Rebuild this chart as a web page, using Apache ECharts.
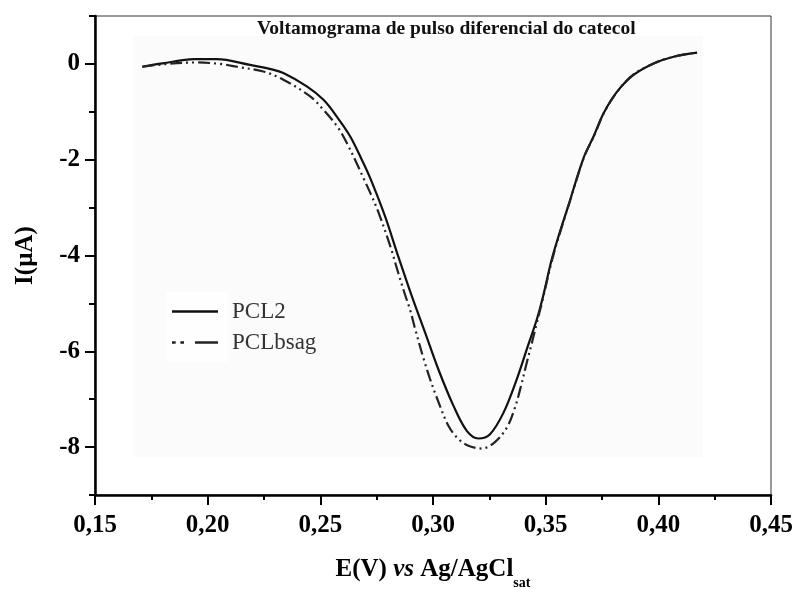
<!DOCTYPE html>
<html><head><meta charset="utf-8">
<script src="https://cdn.jsdelivr.net/npm/echarts@6/dist/echarts.min.js"></script>
<style>html,body{margin:0;padding:0;background:#fff}#c{width:794px;height:589px}</style>
</head><body><div id="c"></div>
<script>
const titleText = 'Voltamograma de pulso diferencial do catecol';
const seriesNames = ['PCL2', 'PCLbsag'];
const xTicks = [0.15, 0.20, 0.25, 0.30, 0.35, 0.40, 0.45];
const yTicks = [-8, -6, -4, -2, 0];

const pcl2X = [0.171,0.180,0.194,0.204,0.2188,0.228,0.2336,0.244,0.2514,0.2573,0.2632,0.2684,0.2721,0.2787,0.2843,0.2906,0.2965,0.3024,0.3091,0.315,0.3202,0.3253,0.3313,0.3372,0.3416,0.3461,0.3485,0.3527,0.3557,0.360,0.3668,0.3713,0.3757,0.3817,0.389,0.3979,0.4068,0.4172];
const pcl2Y = [-0.06,0.01,0.10,0.10,-0.02,-0.11,-0.19,-0.47,-0.75,-1.10,-1.51,-2.00,-2.38,-3.18,-3.98,-4.85,-5.61,-6.38,-7.14,-7.66,-7.82,-7.73,-7.28,-6.58,-5.96,-5.33,-4.92,-4.08,-3.60,-2.97,-1.965,-1.51,-1.03,-0.58,-0.23,0.01,0.15,0.235];

const bsagX = [0.171,0.180,0.195,0.2055,0.213,0.2247,0.2336,0.2455,0.2514,0.258,0.2625,0.2654,0.2691,0.2728,0.2758,0.281,0.2845,0.2876,0.2898,0.292,0.2958,0.2987,0.3017,0.3069,0.3113,0.3157,0.3217,0.3276,0.3328,0.3364,0.3387,0.3416,0.3439,0.3461,0.3483,0.3527,0.356,0.3602,0.3670,0.3715,0.3759,0.3819,0.389,0.398,0.4067,0.417];
const bsagY = [-0.06,-0.01,0.03,0.00,-0.06,-0.16,-0.33,-0.68,-0.96,-1.34,-1.72,-2.00,-2.38,-2.76,-3.10,-3.80,-4.35,-4.82,-5.13,-5.52,-6.15,-6.58,-6.97,-7.56,-7.83,-7.97,-8.03,-7.89,-7.59,-7.17,-6.79,-6.24,-5.82,-5.40,-4.99,-4.12,-3.58,-2.95,-1.95,-1.50,-1.02,-0.57,-0.22,0.01,0.15,0.235];

const zip = (xs, ys) => xs.map((v, i) => [v, ys[i]]);
const serif = "'Liberation Serif','Times New Roman',serif";
const labelStyle = {fontFamily: serif, fontWeight: 'bold', fontSize: 25, color: '#000'};
const legendText = {fontFamily: serif, fontSize: 23, color: '#333', padding: [0, 0, 0, 9]};

const chart = echarts.init(document.getElementById('c'), null, {renderer: 'canvas'});
chart.setOption({
  animation: false,
  backgroundColor: '#fff',
  title: {
    text: titleText, left: 257, top: 19, padding: 0,
    textStyle: {fontFamily: serif, fontWeight: 'bold', fontSize: 19.5, color: '#111'}
  },
  graphic: [{
    type: 'rect', z: -1, silent: true,
    shape: {x: 133, y: 36, width: 570, height: 421},
    style: {fill: '#fbfbfb'}
  }, {
    type: 'rect', z: -1, silent: true,
    shape: {x: 166, y: 292, width: 62, height: 70},
    style: {fill: '#fefefe'}
  }],
  legend: [{
    data: [seriesNames[0]], left: 172, top: 300, itemWidth: 46, itemHeight: 14,
    padding: 0, icon: 'path://M0,6h46v2.4H0z',
    textStyle: legendText
  }, {
    data: [seriesNames[1]], left: 172, top: 331, itemWidth: 46, itemHeight: 14,
    padding: 0, icon: 'path://M0,6h3.5v2.4H0z M8,6h3.5v2.4H8z M22,6h22v2.4H22z',
    textStyle: legendText
  }],
  grid: {left: 95, right: 23, top: 16, bottom: 94, outerBoundsMode: 'none', containLabel: false,
    show: true, borderColor: '#333', borderWidth: 1, backgroundColor: 'transparent'},
  xAxis: {
    type: 'value', min: 0.15, max: 0.45, interval: 0.05,
    axisLine: {show: true, onZero: false, lineStyle: {color: '#000', width: 2.5}},
    axisTick: {show: true, length: 10, lineStyle: {color: '#000', width: 2}},
    minorTick: {show: true, splitNumber: 2, length: 5, lineStyle: {color: '#000', width: 2}},
    splitLine: {show: false},
    axisLabel: Object.assign({margin: 18, formatter: v => v.toFixed(2).replace('.', ',')}, labelStyle),
    name: '{a|E(V) }{b|vs}{a| Ag/AgCl}{s|sat}',
    nameLocation: 'middle', nameGap: 55,
    nameTextStyle: {
      rich: {
        a: {fontFamily: serif, fontWeight: 'bold', fontSize: 25, color: '#000'},
        b: {fontFamily: serif, fontWeight: 'bold', fontStyle: 'italic', fontSize: 25, color: '#000'},
        s: {fontFamily: serif, fontWeight: 'bold', fontSize: 14, color: '#000', padding: [26, 0, 0, 0]}
      }
    }
  },
  yAxis: [{
    type: 'value', min: -9, max: 1, interval: 1,
    axisLine: {show: true, onZero: false, lineStyle: {color: '#000', width: 2.5}},
    axisTick: {show: true, length: 6, lineStyle: {color: '#000', width: 2}},
    splitLine: {show: false},
    axisLabel: Object.assign({margin: 15, formatter: v => yTicks.indexOf(v) >= 0 ? String(v) : ''}, labelStyle),
    name: 'I(µA)', nameLocation: 'middle', nameGap: 57,
    nameTextStyle: {fontFamily: serif, fontWeight: 'bold', fontSize: 25, color: '#000'}
  }, {
    type: 'value', min: -9, max: 1, position: 'left',
    axisLine: {show: false},
    axisTick: {show: true, length: 10, customValues: yTicks, lineStyle: {color: '#000', width: 2}},
    axisLabel: {show: false},
    splitLine: {show: false}
  }],
  series: [{
    name: seriesNames[0], type: 'line', symbol: 'none', smooth: 0.35,
    data: zip(pcl2X, pcl2Y),
    lineStyle: {color: '#111', width: 2.2}, itemStyle: {color: '#111'}
  }, {
    name: seriesNames[1], type: 'line', symbol: 'none', smooth: 0.35,
    data: zip(bsagX, bsagY),
    lineStyle: {color: '#222', width: 2.2, type: [12, 4, 2, 4, 2, 4]}, itemStyle: {color: '#222'}
  }]
});
</script></body></html>
